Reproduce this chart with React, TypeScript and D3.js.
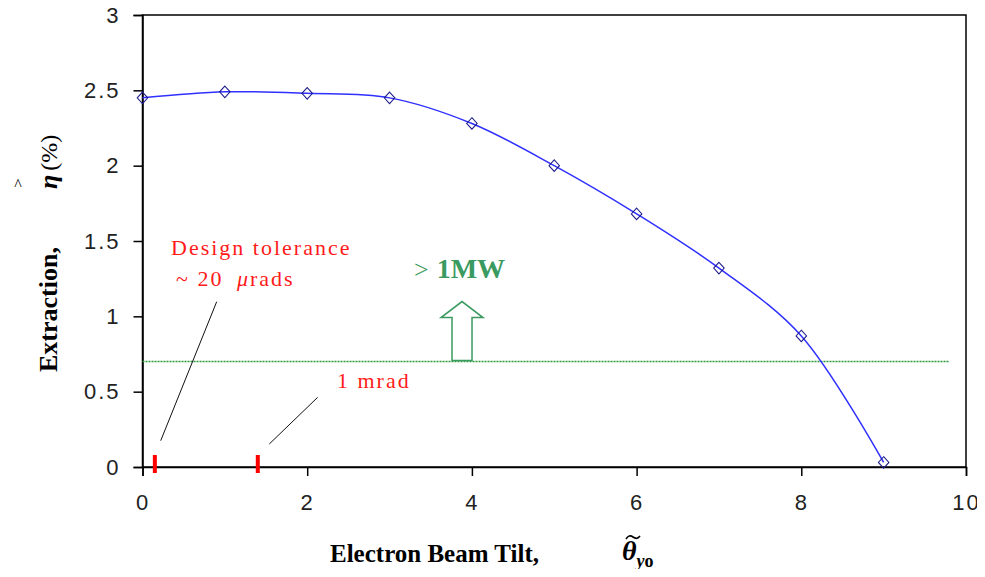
import * as d3 from "d3";
import { useEffect, useRef } from "react";

// beam tilt vs extraction efficiency
const tilt = [0, 1, 2, 3, 4, 5, 6, 7, 8, 9];
const extraction = [2.45, 2.49, 2.48, 2.45, 2.28, 2.0, 1.68, 1.32, 0.87, 0.03];
const xTicks = [0, 2, 4, 6, 8, 10];
const yTicks = [0, 0.5, 1, 1.5, 2, 2.5, 3];
const threshold = 0.7; // > 1MW level
const markers = [0.15, 1.4]; // design tolerance, 1 mrad

const W = 985;
const H = 577;

export default function App() {
    const ref = useRef<SVGSVGElement>(null);

    useEffect(() => {
        const svg = d3.select(ref.current);
        svg.selectAll("*").remove();

        const x = d3.scaleLinear().domain([0, 10]).range([142.5, 966]);
        const y = d3.scaleLinear().domain([0, 3]).range([467, 15]);

        const tickFont = "'Liberation Sans', Arial, sans-serif";
        const serif = "'Liberation Serif', 'Times New Roman', serif";

        // frame
        svg.append("rect")
            .attr("x", x(0)).attr("y", y(3))
            .attr("width", x(10) - x(0)).attr("height", y(0) - y(3))
            .attr("fill", "none").attr("stroke", "#000").attr("stroke-width", 1.5);

        // y axis
        const yAxis = svg.append("g")
            .attr("transform", `translate(${x(0)},0)`)
            .call(d3.axisLeft(y).tickValues(yTicks).tickSize(9).tickPadding(13)
                .tickFormat(d => String(d)));
        yAxis.select(".domain").attr("stroke-width", 1.5);
        yAxis.selectAll(".tick line").attr("stroke-width", 1.5);
        yAxis.selectAll("text")
            .style("font-family", tickFont).style("font-size", "22px")
            .style("letter-spacing", "2px").attr("fill", "#222");

        // x axis
        const xAxis = svg.append("g")
            .attr("transform", `translate(0,${y(0)})`)
            .call(d3.axisBottom(x).tickValues(xTicks).tickSize(9).tickPadding(18)
                .tickFormat(d => String(d)));
        xAxis.select(".domain").attr("stroke-width", 1.5);
        xAxis.selectAll(".tick line").attr("stroke-width", 1.5);
        xAxis.selectAll("text")
            .style("font-family", tickFont).style("font-size", "22px")
            .style("letter-spacing", "2px").attr("fill", "#222");

        // threshold line
        svg.append("line")
            .attr("x1", x(0)).attr("x2", x(9.8))
            .attr("y1", y(threshold)).attr("y2", y(threshold))
            .attr("stroke", "#2a9a3a").attr("stroke-width", 1.5)
            .attr("stroke-dasharray", "2,1");

        // up arrow (hollow)
        const ax = x(3.88);
        const base = y(threshold) - 1;
        const arrow = [
            [ax - 10, base], [ax - 10, base - 43], [ax - 21, base - 43],
            [ax, base - 59], [ax + 21, base - 43], [ax + 10, base - 43], [ax + 10, base],
        ];
        svg.append("polygon")
            .attr("points", arrow.map(p => p.join(",")).join(" "))
            .attr("fill", "#fff").attr("stroke", "#3a9a60").attr("stroke-width", 1.5);

        svg.append("text")
            .attr("x", 414).attr("y", 278)
            .style("font-family", serif).attr("fill", "#3a9a60")
            .call(t => {
                t.append("tspan").style("font-size", "26px").text(">");
                t.append("tspan").attr("dx", 8).style("font-size", "28px")
                    .style("font-weight", "bold").text("1MW");
            });

        // curve
        const pts = tilt.map((t, i) => [t, extraction[i]] as [number, number]);
        const line = d3.line<[number, number]>()
            .x(d => x(d[0])).y(d => y(d[1]))
            .curve(d3.curveCatmullRom.alpha(0.5));
        svg.append("path")
            .attr("d", line(pts))
            .attr("fill", "none").attr("stroke", "#3030ff").attr("stroke-width", 1.5);

        const diamond = d3.symbol().type(d3.symbolDiamond2).size(70);
        svg.selectAll(".pt")
            .data(pts)
            .enter()
            .append("path")
            .attr("class", "pt")
            .attr("d", diamond)
            .attr("transform", d => `translate(${x(d[0])},${y(d[1])}) scale(1,1.1)`)
            .attr("fill", "none").attr("stroke", "#1a1a8a").attr("stroke-width", 1);

        // red tolerance marks
        svg.selectAll(".mark")
            .data(markers)
            .enter()
            .append("line")
            .attr("x1", d => x(d)).attr("x2", d => x(d))
            .attr("y1", y(0) - 12).attr("y2", y(0) + 6)
            .attr("stroke", "#ff0000").attr("stroke-width", 4);

        // leader lines
        svg.append("line")
            .attr("x1", 160.7).attr("y1", 440.7).attr("x2", 216.7).attr("y2", 301.7)
            .attr("stroke", "#111").attr("stroke-width", 1);
        svg.append("line")
            .attr("x1", 269.3).attr("y1", 444).attr("x2", 317.7).attr("y2", 397.3)
            .attr("stroke", "#111").attr("stroke-width", 1);

        const red = (tx: number, ty: number) =>
            svg.append("text")
                .attr("x", tx).attr("y", ty)
                .style("font-family", serif).style("font-size", "22px")
                .style("letter-spacing", "2px").attr("fill", "#ff1a1a");
        red(171, 255).text("Design tolerance");
        red(176, 286).call(t => {
            t.append("tspan").text("~ 20 ");
            t.append("tspan").attr("dx", 6).style("font-style", "italic").text("μ");
            t.append("tspan").text("rads");
        });
        red(337, 388).text("1 mrad");

        // x axis title
        svg.append("text")
            .attr("x", 330).attr("y", 562)
            .style("font-family", serif).style("font-size", "25px")
            .style("font-weight", "bold").attr("fill", "#000")
            .text("Electron Beam Tilt,");
        svg.append("text")
            .attr("x", 622).attr("y", 560)
            .style("font-family", serif).style("font-weight", "bold").attr("fill", "#000")
            .call(t => {
                t.append("tspan").style("font-size", "28px").style("font-style", "italic").text("θ");
                t.append("tspan").attr("dy", 7).style("font-size", "18px").style("font-style", "italic").text("y");
                t.append("tspan").style("font-size", "18px").text("o");
            });
        // tilde over theta
        svg.append("path")
            .attr("d", "M626,539 q3,-5 7,-2 t7,-1")
            .attr("fill", "none").attr("stroke", "#000").attr("stroke-width", 1.6);

        // y axis title
        const yl = svg.append("g").attr("transform", "rotate(-90)");
        yl.append("text")
            .attr("x", -372).attr("y", 57)
            .style("font-family", serif).style("font-size", "26px")
            .style("font-weight", "bold").attr("fill", "#000")
            .call(t => {
                t.append("tspan").text("Extraction,");
                t.append("tspan").attr("dx", 58).style("font-style", "italic").text("η");
                t.append("tspan").attr("dx", 4).style("font-weight", "normal").style("font-size", "24px").text("(%)");
            });
        yl.append("text")
            .attr("x", -184).attr("y", 24)
            .attr("text-anchor", "middle")
            .style("font-family", serif).style("font-size", "16px").attr("fill", "#000")
            .text("^")
            .attr("transform", "rotate(90,-184,18)");
    }, []);

    return (
        <div style={{ position: "relative", margin: -8 }}>
            <svg ref={ref} width={W} height={H} style={{ display: "block", background: "#fff" }} />
        </div>
    );
}
